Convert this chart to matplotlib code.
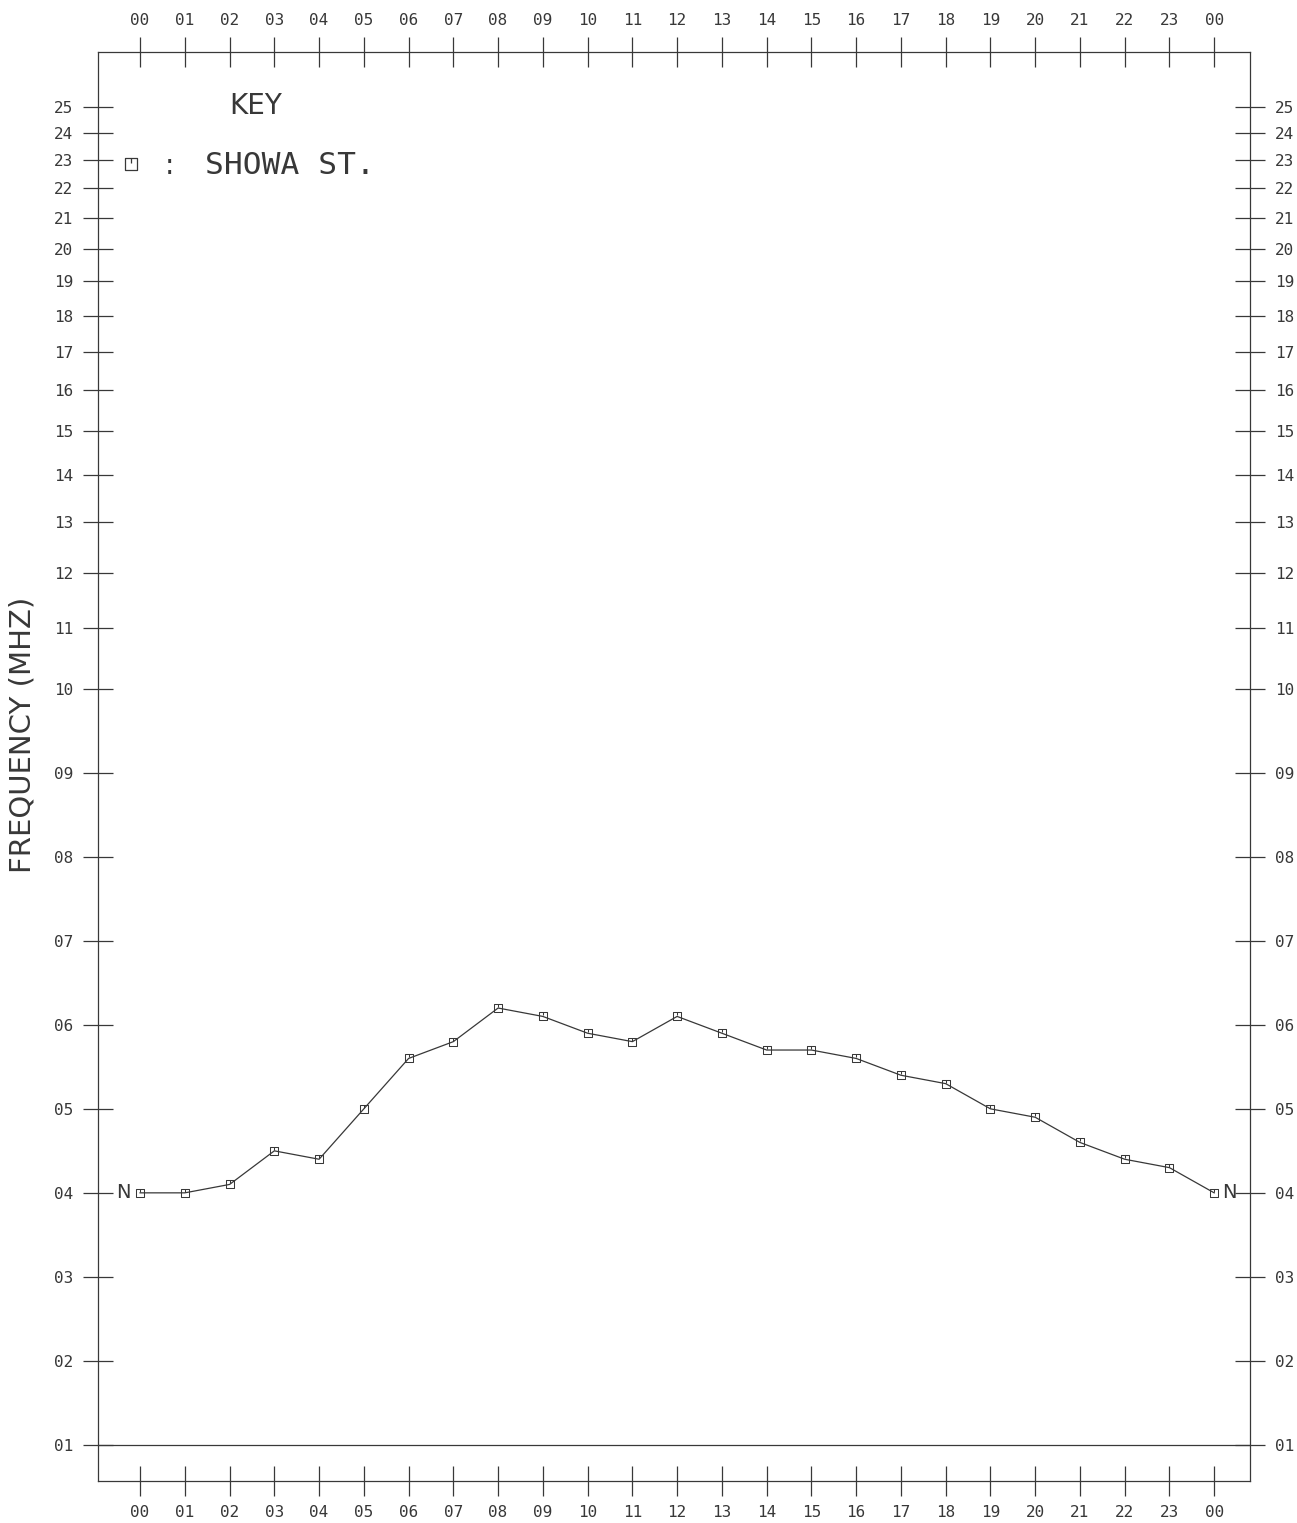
import numpy as np
import matplotlib
matplotlib.use("Agg")
import matplotlib.pyplot as plt
from matplotlib.path import Path

# ─────────────────────────────────────────────
# Data
# ─────────────────────────────────────────────
hours = list(range(0, 25))
hour_labels = [f"{h % 24:02d}" for h in hours]
freq_mhz = [4.0, 4.0, 4.1, 4.5, 4.4, 5.0, 5.6, 5.8, 6.2, 6.1, 5.9, 5.8, 6.1,
            5.9, 5.7, 5.7, 5.6, 5.4, 5.3, 5.0, 4.9, 4.6, 4.4, 4.3, 4.0]
freq_ticks = list(range(1, 26))
freq_labels = [f"{f:02d}" for f in freq_ticks]
station = "SHOWA ST."

INK = "#383838"
MONO = "DejaVu Sans Mono"
LOG_K = 17.4  # log part above 10 MHz (units of the linear part per decade)


def fwd(f):
    f = np.asarray(f, dtype=float)
    return np.where(f <= 10, f, 10 + LOG_K * np.log10(np.maximum(f, 1e-9) / 10))


def inv(y):
    y = np.asarray(y, dtype=float)
    return np.where(y <= 10, y, 10 * 10 ** ((y - 10) / LOG_K))


# small square with a tick inside, like the plotter symbol
marker_path = Path(
    [(-1, -1), (1, -1), (1, 1), (-1, 1), (-1, -1), (0, 1), (0, 0.15)],
    [Path.MOVETO, Path.LINETO, Path.LINETO, Path.LINETO, Path.CLOSEPOLY,
     Path.MOVETO, Path.LINETO],
)

W, H = 1297, 1523
fig = plt.figure(figsize=(W / 100, H / 100), dpi=100)
fig.patch.set_facecolor("white")
ax = fig.add_axes([98 / W, (H - 1481) / H, (1250 - 98) / W, (1481 - 52) / H])

ax.set_yscale("function", functions=(fwd, inv))
ax.set_xlim(-0.94, 24.8)
ax.set_ylim(float(inv(0.57)), float(inv(17.58)))

ax.plot(hours, freq_mhz, color=INK, lw=0.9, marker=marker_path, ms=6.2,
        mfc="none", mec=INK, mew=0.75)
ax.axhline(1, color=INK, lw=0.9)

# N markers at both ends
ax.text(hours[0] - 0.22, freq_mhz[0], "N", ha="right", va="center",
        fontsize=14, color=INK, fontfamily="DejaVu Sans")
ax.text(hours[-1] + 0.18, freq_mhz[-1], "N", ha="left", va="center",
        fontsize=14, color=INK, fontfamily="DejaVu Sans")

# ticks on all four sides
ax.set_xticks(hours)
ax.set_xticklabels(hour_labels)
ax.set_yticks(freq_ticks)
ax.set_yticklabels(freq_labels)
ax.yaxis.set_minor_locator(matplotlib.ticker.NullLocator())
ax.tick_params(axis="x", which="both", direction="inout", length=21, width=0.9,
               color=INK, top=True, bottom=True, labeltop=True, labelbottom=True,
               labelsize=11.5, labelcolor=INK, pad=7)
ax.tick_params(axis="y", which="both", direction="inout", length=21, width=0.9,
               color=INK, left=True, right=True, labelleft=True, labelright=True,
               labelsize=11.5, labelcolor=INK, pad=7.5)
for t in ax.xaxis.get_major_ticks() + ax.yaxis.get_major_ticks():
    t.label1.set_fontfamily(MONO)
    t.label2.set_fontfamily(MONO)

for s in ax.spines.values():
    s.set_color(INK)
    s.set_linewidth(0.9)

ax.set_ylabel("FREQUENCY (MHZ)", fontsize=21, color=INK,
              fontfamily="DejaVu Sans")
ax.yaxis.set_label_coords((37 - 98) / (1250 - 98), (1481 - 735) / (1481 - 52))


# key
def px(x, y):
    return ((x - 98) / (1250 - 98), (1481 - y) / (1481 - 52))


ax.text(*px(256, 106), "KEY", transform=ax.transAxes, ha="center", va="center",
        fontsize=20, color=INK, fontfamily="DejaVu Sans")
ax.plot(*px(131, 164), transform=ax.transAxes, marker=marker_path, ms=8.5,
        mfc="none", mec=INK, mew=0.9, clip_on=False)
ax.text(*px(169, 166), ":", transform=ax.transAxes, ha="center", va="center",
        fontsize=20, color=INK, fontfamily="DejaVu Sans")
ax.text(*px(205, 166), station, transform=ax.transAxes, ha="left", va="center",
        fontsize=22.5, color=INK, fontfamily=MONO)

fig.savefig("out.png", dpi=100, facecolor="white")
